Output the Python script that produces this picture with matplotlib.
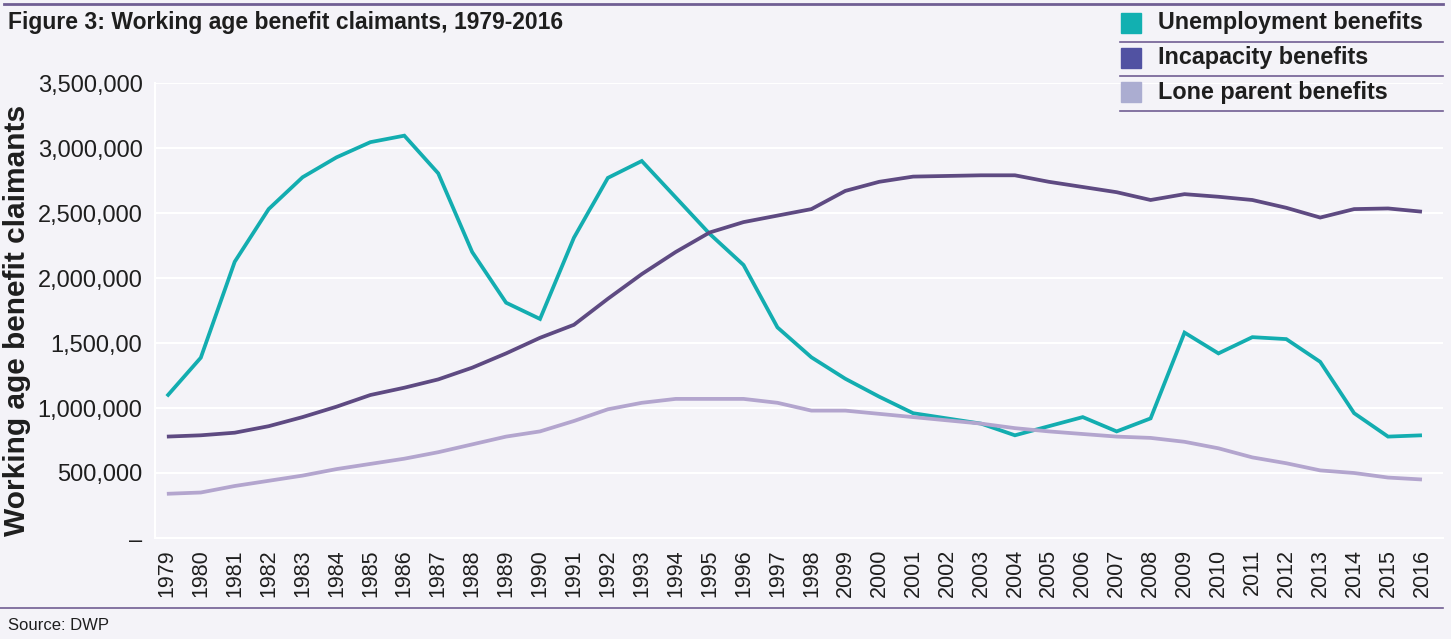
import matplotlib
matplotlib.use("Agg")
import matplotlib.pyplot as plt
from matplotlib.patches import Rectangle
from matplotlib.lines import Line2D

years = ["1979", "1980", "1981", "1982", "1983", "1984", "1985", "1986", "1987", "1988",
         "1989", "1990", "1991", "1992", "1993", "1994", "1995", "1996", "1997", "1998",
         "2099", "2000", "2001", "2002", "2003", "2004", "2005", "2006", "2007", "2008",
         "2009", "2010", "2011", "2012", "2013", "2014", "2015", "2016"]

unemployment = [1090000, 1387000, 2125000, 2530000, 2775000, 2928000, 3045000, 3095000, 2805000, 2200000,
                1810000, 1685000, 2310000, 2770000, 2900000, 2620000, 2340000, 2100000, 1620000, 1390000,
                1225000, 1087000, 960000, 920000, 880000, 790000, 860000, 930000, 820000, 920000,
                1580000, 1420000, 1545000, 1530000, 1355000, 960000, 780000, 790000]

incapacity = [780000, 790000, 810000, 860000, 930000, 1010000, 1100000, 1156000, 1220000, 1310000,
              1420000, 1540000, 1640000, 1840000, 2030000, 2200000, 2350000, 2430000, 2480000, 2530000,
              2670000, 2740000, 2780000, 2785000, 2790000, 2790000, 2740000, 2700000, 2660000, 2600000,
              2645000, 2625000, 2600000, 2540000, 2465000, 2530000, 2535000, 2510000]

lone_parent = [340000, 350000, 400000, 440000, 480000, 530000, 570000, 610000, 660000, 720000,
               780000, 820000, 900000, 990000, 1040000, 1070000, 1070000, 1070000, 1040000, 980000,
               980000, 955000, 930000, 905000, 880000, 845000, 820000, 800000, 780000, 770000,
               740000, 690000, 620000, 575000, 520000, 500000, 465000, 450000]

ytick_vals = [0, 500000, 1000000, 1500000, 2000000, 2500000, 3000000, 3500000]
ytick_labels = ["–", "500,000", "1,000,000", "1,500,00", "2,000,000", "2,500,000", "3,000,000", "3,500,000"]

series_names = ["Unemployment benefits", "Incapacity benefits", "Lone parent benefits"]
line_colors = ["#13ADB0", "#5E4A82", "#B3A5CE"]
patch_colors = ["#12B0B1", "#5152A2", "#ABADD1"]

W, H = 1451, 639
BG = "#F4F3F8"
TXT = "#1E1E1E"
RULE = "#705E93"
FONT = "Liberation Sans"

plt.rcParams["font.family"] = [FONT, "DejaVu Sans"]

fig = plt.figure(figsize=(W / 100, H / 100), dpi=100, facecolor=BG)


def fx(px):
    return px / W


def fy(py):
    return 1 - py / H


ax = fig.add_axes([fx(155), fy(538), fx(1443) - fx(155), fy(83) - fy(538)])
ax.set_facecolor(BG)

x = list(range(len(years)))
for vals, c in zip([unemployment, incapacity, lone_parent], line_colors):
    ax.plot(x, vals, color=c, lw=2.7, solid_joinstyle="miter", solid_capstyle="butt")

ax.set_ylim(0, 3500000)
ax.set_xlim(-0.35, len(years) - 1 + 0.62)
ax.set_yticks(ytick_vals)
ax.set_yticklabels(ytick_labels, fontsize=17, color=TXT)
ax.set_xticks(x)
ax.set_xticklabels(years, rotation=90, fontsize=15.5, color=TXT)
ax.tick_params(axis="both", length=0)
ax.tick_params(axis="y", pad=9)
ax.tick_params(axis="x", pad=8)
ax.grid(axis="y", color="white", lw=1.5)
ax.set_axisbelow(True)
for s in ["top", "right"]:
    ax.spines[s].set_visible(False)
for s in ["left", "bottom"]:
    ax.spines[s].set_color("white")
    ax.spines[s].set_linewidth(1.5)

# Y axis title placed in figure pixels
fig.text(fx(17), fy(320), "Working age benefit claimants", fontsize=21.5, fontweight="bold",
         color=TXT, rotation=90, ha="center", va="center")

# Title
fig.text(fx(8), fy(22), "Figure 3: Working age benefit claimants, 1979-2016", fontsize=16.5,
         fontweight="bold", color=TXT, ha="left", va="center")

# Rules
fig.add_artist(Line2D([fx(4), fx(1443)], [fy(4), fy(4)], color=RULE, lw=2))
fig.add_artist(Line2D([fx(0), fx(1443)], [fy(608), fy(608)], color=RULE, lw=1.2))

# Legend (manual)
row_y = [23, 57.5, 92]
sep_y = [42, 76, 111]
for name, pc, yy, sy in zip(series_names, patch_colors, row_y, sep_y):
    fig.add_artist(Rectangle((fx(1121), fy(yy + 10)), fx(20), fy(0) - fy(20), color=pc,
                             transform=fig.transFigure))
    fig.text(fx(1158), fy(yy), name, fontsize=16.8, fontweight="bold", color=TXT,
             ha="left", va="center")
    fig.add_artist(Line2D([fx(1120), fx(1443)], [fy(sy), fy(sy)], color=RULE, lw=1.2))

# Source
fig.text(fx(8), fy(625), "Source: DWP", fontsize=12, color=TXT, ha="left", va="center")

fig.savefig("out.png", dpi=100, facecolor=BG)
